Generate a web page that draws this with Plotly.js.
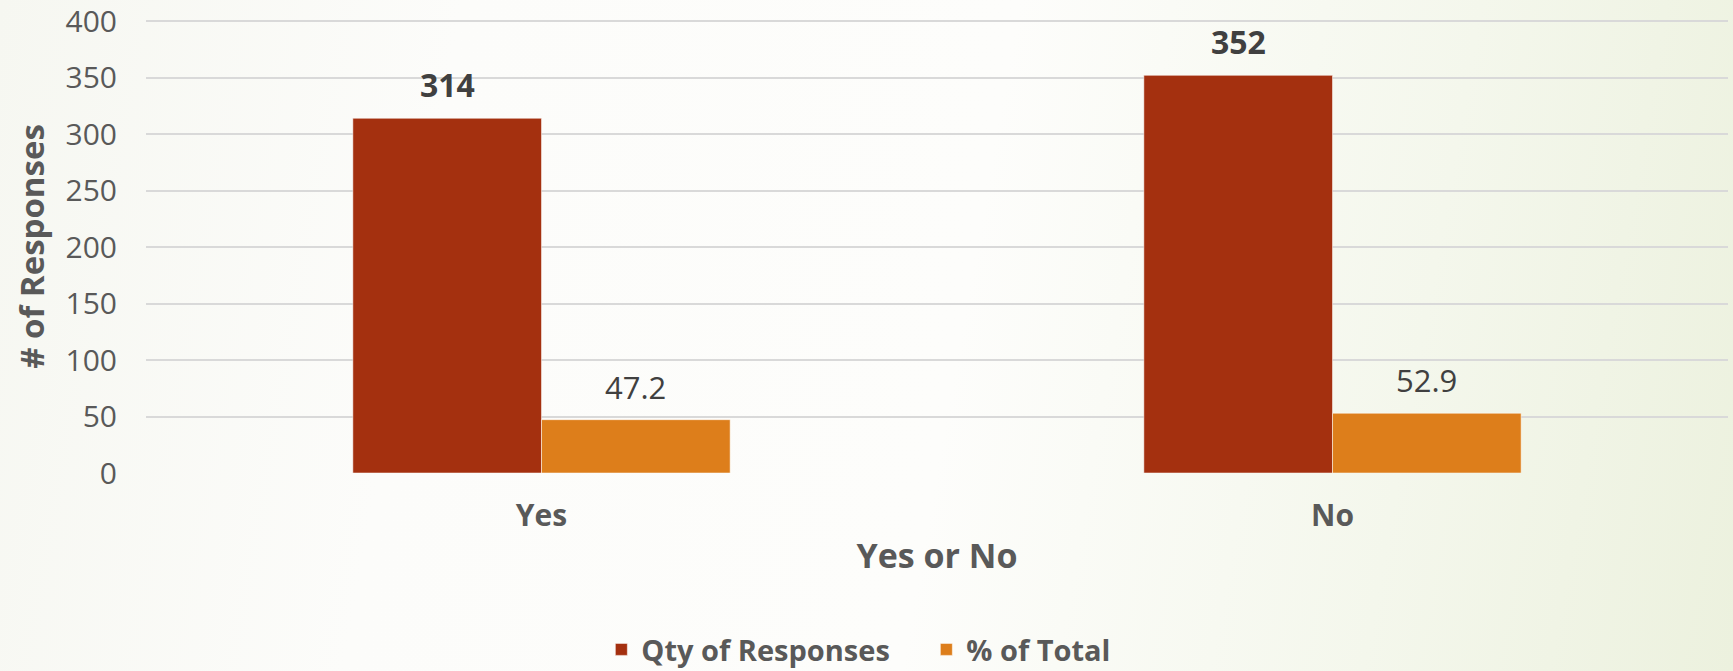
<!DOCTYPE html>
<html>
<head>
<meta charset="utf-8">
<script src="https://cdn.plot.ly/plotly-3.0.1.min.js"></script>
<style>
  html, body { margin: 0; padding: 0; }
  body {
    width: 1733px; height: 671px; overflow: hidden;
    background: linear-gradient(100deg, #f6f7f1 0%, #fcfcfa 25%, #fdfdfb 55%, #f4f7ec 80%, #ecf1de 100%);
  }
  #chart { width: 1733px; height: 671px; }
</style>
</head>
<body>
<div id="chart"></div>
<script>
const categories = ['Yes', 'No'];
const seriesNames = ['Qty of Responses', '% of Total'];
const qtyValues = [314, 352];
const pctValues = [47.2, 52.9];
const yTicks = [0, 50, 100, 150, 200, 250, 300, 350, 400];

const FONT = '"Open Sans", Lato, sans-serif';
const GRAY = '#595959';
const DARK = '#404040';
const RED = '#A4300F';
const ORANGE = '#DD7E1B';

const bargap = 0.523;
const barW = (1 - bargap) / 2;

const traces = [
  {
    type: 'bar', name: seriesNames[0], x: categories, y: qtyValues,
    marker: { color: RED, line: { color: 'rgba(255,255,255,0.5)', width: 1 } },
    hoverinfo: 'x+y'
  },
  {
    type: 'bar', name: seriesNames[1], x: categories, y: pctValues,
    marker: { color: ORANGE, line: { color: 'rgba(255,255,255,0.5)', width: 1 } },
    hoverinfo: 'x+y'
  }
];

const annotations = [];
categories.forEach((c, i) => {
  annotations.push({
    x: i - barW / 2, y: qtyValues[i], xref: 'x', yref: 'y',
    text: '<b>' + qtyValues[i] + '</b>', showarrow: false,
    yanchor: 'bottom', yshift: 10,
    font: { family: FONT, size: 32, color: DARK }
  });
  annotations.push({
    x: i + barW / 2, y: pctValues[i], xref: 'x', yref: 'y',
    text: String(pctValues[i]), showarrow: false,
    yanchor: 'bottom', yshift: 10,
    font: { family: FONT, size: 31, color: DARK }
  });
});

const layout = {
  width: 1733, height: 671,
  margin: { l: 146, r: 5, t: 20, b: 198 },
  paper_bgcolor: 'rgba(0,0,0,0)',
  plot_bgcolor: 'rgba(0,0,0,0)',
  barmode: 'group',
  bargap: bargap,
  bargroupgap: 0,
  font: { family: FONT, color: GRAY },
  xaxis: {
    type: 'category',
    showgrid: false, zeroline: false, showline: false,
    ticks: '', ticklabelstandoff: 22,
    tickfont: { family: FONT, size: 30, color: GRAY, weight: 'bold' },
    title: { text: '<b>Yes or No</b>', font: { family: FONT, size: 34, color: GRAY }, standoff: 10 },
    automargin: false
  },
  yaxis: {
    range: [0, 401],
    tickvals: yTicks,
    ticktext: yTicks.map(String),
    showgrid: true, gridcolor: '#d9d9d9', gridwidth: 2,
    zeroline: false, showline: false,
    ticks: '', ticklabelstandoff: 28,
    ticklabeloverflow: 'allow',
    tickfont: { family: FONT, size: 30, color: GRAY },
    title: { text: '<b># of Responses</b>', font: { family: FONT, size: 33, color: GRAY }, standoff: 10 },
    automargin: false
  },
  showlegend: true,
  legend: {
    orientation: 'h',
    xref: 'container', x: 0.347, xanchor: 'left',
    yref: 'container', y: 0.032, yanchor: 'middle',
    entrywidth: 280, entrywidthmode: 'pixels',
    font: { family: FONT, size: 29, color: GRAY, weight: 'bold' },
    itemwidth: 30,
    bgcolor: 'rgba(0,0,0,0)'
  },
  annotations: annotations
};

Plotly.newPlot('chart', traces, layout, { displayModeBar: false, staticPlot: true });
</script>
</body>
</html>
